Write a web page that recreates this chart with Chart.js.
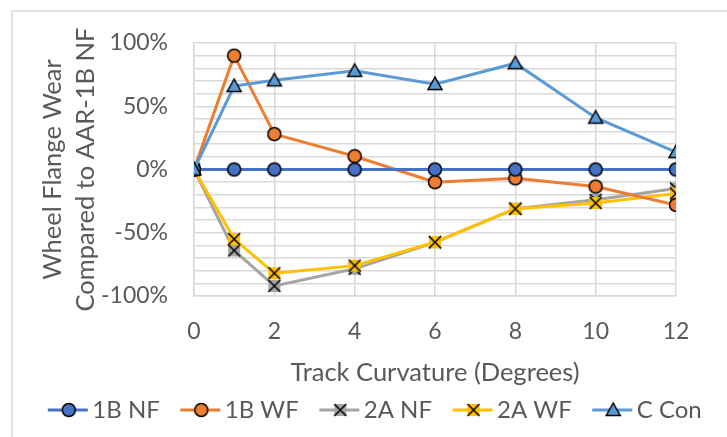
<!DOCTYPE html>
<html>
<head>
<meta charset="utf-8">
<script src="https://cdn.jsdelivr.net/npm/chart.js@4.4.0/dist/chart.umd.min.js"></script>
<style>
  html, body { margin: 0; padding: 0; background: #fff; }
  #wrap { width: 727px; height: 437px; position: relative; }
</style>
</head>
<body>
<div id="wrap"><canvas id="chart" width="727" height="437"></canvas></div>
<script>
const curvature = [0, 1, 2, 4, 6, 8, 10, 12];
const seriesNames = ["1B NF", "1B WF", "2A NF", "2A WF", "C Con"];
const nf1B = [0, 0, 0, 0, 0, 0, 0, 0];
const wf1B = [0, 0.90, 0.28, 0.105, -0.10, -0.07, -0.135, -0.28];
const nf2A = [0, -0.64, -0.92, -0.785, -0.575, -0.31, -0.24, -0.15];
const wf2A = [0, -0.55, -0.82, -0.76, -0.575, -0.31, -0.265, -0.19];
const cCon = [0, 0.66, 0.705, 0.78, 0.675, 0.84, 0.41, 0.137];
const xTicks = [0, 2, 4, 6, 8, 10, 12];

const colors = ["#4472C4", "#ED7D31", "#A5A5A5", "#FFC000", "#5B9BD5"];
const markers = ["circle", "circle", "cross", "cross", "triangle"];
const textColor = "#595959";
const gridColor = "#d9d9d9";
const font = "Lato";

function drawMarker(ctx, type, color, cx, cy) {
  ctx.lineWidth = 1.5;
  ctx.strokeStyle = "#000";
  ctx.fillStyle = color;
  if (type === "circle") {
    ctx.beginPath();
    ctx.arc(cx, cy, 6.5, 0, Math.PI * 2);
    ctx.fill();
    ctx.stroke();
  } else if (type === "triangle") {
    ctx.beginPath();
    ctx.moveTo(cx, cy - 7);
    ctx.lineTo(cx + 7, cy + 5.5);
    ctx.lineTo(cx - 7, cy + 5.5);
    ctx.closePath();
    ctx.fill();
    ctx.stroke();
  } else {
    ctx.fillRect(cx - 6, cy - 6, 12, 12);
    ctx.beginPath();
    ctx.moveTo(cx - 6, cy - 6); ctx.lineTo(cx + 6, cy + 6);
    ctx.moveTo(cx + 6, cy - 6); ctx.lineTo(cx - 6, cy + 6);
    ctx.stroke();
  }
}

function pointImage(type, color) {
  const c = document.createElement("canvas");
  c.width = 20; c.height = 20;
  drawMarker(c.getContext("2d"), type, color, 10, 10);
  return c;
}

// legend swatch: transparent on the left, line + marker on the right
function legendImage(type, color) {
  const c = document.createElement("canvas");
  c.width = 60; c.height = 20;
  const ctx = c.getContext("2d");
  ctx.strokeStyle = color;
  ctx.lineWidth = 3;
  ctx.beginPath();
  ctx.moveTo(19, 10); ctx.lineTo(59, 10);
  ctx.stroke();
  drawMarker(ctx, type, color, 40, 10);
  return c;
}

const allValues = [nf1B, wf1B, nf2A, wf2A, cCon];
const legendImgs = [];
const datasets = allValues.map((vals, i) => {
  legendImgs.push(legendImage(markers[i], colors[i]));
  return {
    label: seriesNames[i],
    data: curvature.map((x, j) => ({ x: x, y: vals[j] })),
    borderColor: colors[i],
    backgroundColor: colors[i],
    borderWidth: 3,
    pointStyle: pointImage(markers[i], colors[i]),
    pointRadius: 7,
    tension: 0
  };
});
datasets.forEach((d, i) => { d.order = [1, 2, 4, 3, 0][i]; });

const framePlugin = {
  id: "frame",
  beforeDraw(chart) {
    const ctx = chart.ctx;
    ctx.save();
    ctx.strokeStyle = gridColor;
    ctx.lineWidth = 1.5;
    ctx.beginPath();
    ctx.moveTo(12, 440); ctx.lineTo(12, 11); ctx.lineTo(730, 11);
    ctx.stroke();
    ctx.restore();
  }
};

new Chart(document.getElementById("chart"), {
  type: "line",
  data: { datasets: datasets },
  plugins: [framePlugin],
  options: {
    responsive: false,
    animation: false,
    layout: { padding: { top: 43, right: 0, left: 12, bottom: 5 } },
    plugins: {
      tooltip: { enabled: false },
      legend: {
        position: "bottom",
        labels: {
          color: textColor,
          font: { family: font, size: 24 },
          usePointStyle: true,
          pointStyleWidth: 43,
          padding: 10,
          generateLabels(chart) {
            const items = Chart.defaults.plugins.legend.labels.generateLabels(chart);
            items.forEach(it => { it.pointStyle = legendImgs[it.datasetIndex]; });
            return items.sort((a, b) => a.datasetIndex - b.datasetIndex);
          }
        }
      }
    },
    scales: {
      x: {
        type: "linear",
        min: 0,
        max: 12,
        afterBuildTicks(scale) { scale.ticks = xTicks.map(v => ({ value: v })); },
        afterFit(scale) { scale.height = 92; },
        grid: { color: gridColor, lineWidth: 1.5, drawTicks: false },
        border: { color: gridColor, width: 1.5 },
        ticks: { color: textColor, font: { family: font, size: 23 }, padding: 22 },
        title: {
          display: true,
          text: "Track Curvature (Degrees)",
          color: textColor,
          font: { family: font, size: 25.5 },
          padding: { top: 0, bottom: 0 }
        }
      },
      y: {
        min: -1,
        max: 1,
        afterFit(scale) { scale.width = 182; },
        ticks: {
          stepSize: 0.1,
          autoSkip: false,
          color: textColor,
          font: { family: font, size: 23 },
          padding: 26,
          callback(v) {
            const p = Math.round(v * 100);
            return p % 50 === 0 ? p + "%" : "";
          }
        },
        grid: { color: gridColor, lineWidth: 1.5, drawTicks: false },
        border: { color: gridColor, width: 1.5 },
        title: {
          display: true,
          text: ["Wheel Flange Wear", "Compared to AAR-1B NF"],
          color: textColor,
          font: { family: font, size: 25.5, lineHeight: 1.294 },
          padding: { top: 24.5, bottom: 0 }
        }
      },
      // empty spacer on the right so the plot ends where the reference's does
      spacer: {
        type: "linear",
        position: "right",
        afterFit(scale) { scale.width = 51; },
        grid: { display: false },
        border: { display: false },
        ticks: { display: false }
      }
    }
  }
});
</script>
</body>
</html>
